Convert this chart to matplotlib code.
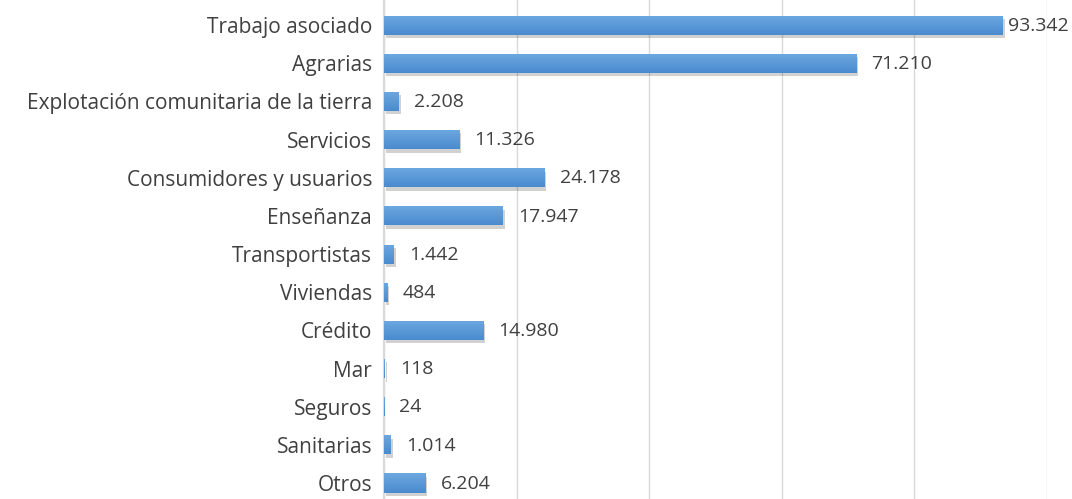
import matplotlib
matplotlib.use("Agg")
import matplotlib.pyplot as plt
import matplotlib.patheffects as pe
import numpy as np
from matplotlib.colors import LinearSegmentedColormap

categories = ["Trabajo asociado", "Agrarias", "Explotación comunitaria de la tierra",
              "Servicios", "Consumidores y usuarios", "Enseñanza", "Transportistas",
              "Viviendas", "Crédito", "Mar", "Seguros", "Sanitarias", "Otros"]
values = [93342, 71210, 2208, 11326, 24178, 17947, 1442, 484, 14980, 118, 24, 1014, 6204]


def fmt(v):
    return f"{v:,}".replace(",", ".")


plt.rcParams['font.family'] = ['Open Sans', 'DejaVu Sans']

fig = plt.figure(figsize=(10.72, 4.99), dpi=100)
ax = fig.add_axes([384 / 1072, 0, 663 / 1072, 1])

y = list(range(len(categories)))
bars = ax.barh(y, values, height=0.5, color="#5B9BD5", zorder=3)
grad_cmap = LinearSegmentedColormap.from_list("g", ["#6DA8DF", "#4A8BCF"])
grad = np.linspace(0, 1, 64).reshape(-1, 1)
for b in bars:
    b.set_path_effects([pe.SimplePatchShadow(offset=(1.5, -2.5), alpha=0.18, shadow_rgbFace="#000000"),
                        pe.Normal()])
    x0, y0 = b.get_x(), b.get_y()
    w, h = b.get_width(), b.get_height()
    im = ax.imshow(grad, cmap=grad_cmap, aspect="auto", origin="upper",
                   extent=[x0, x0 + w, y0 + h, y0], zorder=3.5, interpolation="bilinear")
    im.set_clip_path(b)

labels = []
for yi, v in zip(y, values):
    t = ax.annotate(fmt(v), (v, yi), xytext=(11, -0.5), textcoords="offset points",
                    va="center", ha="left", fontsize=14, color="#404040", zorder=4)
    labels.append(t)

ax.set_xlim(0, 100000)
ax.set_ylim(12 + 16 / 38.17, -0.5 - 6 / 38.17)
ax.set_xticks(range(0, 100001, 20000))
ax.set_xticklabels([])
ax.tick_params(axis="x", length=0)
ax.tick_params(axis="y", length=0, pad=8.5)
ax.set_yticks(y)
ax.set_yticklabels(categories, fontsize=15, color="#404040")
ax.grid(axis="x", color="#D9D9D9", linewidth=1, zorder=0)
for s in ["top", "right", "bottom"]:
    ax.spines[s].set_visible(False)
ax.spines["left"].set_color("#D9D9D9")
ax.spines["left"].set_linewidth(1.5)
ax.spines["left"].set_zorder(2)

# keep labels inside the figure, like the spreadsheet does
fig.canvas.draw()
renderer = fig.canvas.get_renderer()
for t in labels:
    bb = t.get_window_extent(renderer)
    over = bb.x1 - (fig.bbox.width - 3)
    if over > 0:
        dx, dy = t.xyann
        t.xyann = (dx - over * 72 / fig.dpi, dy)

fig.savefig("out.png", dpi=100)
